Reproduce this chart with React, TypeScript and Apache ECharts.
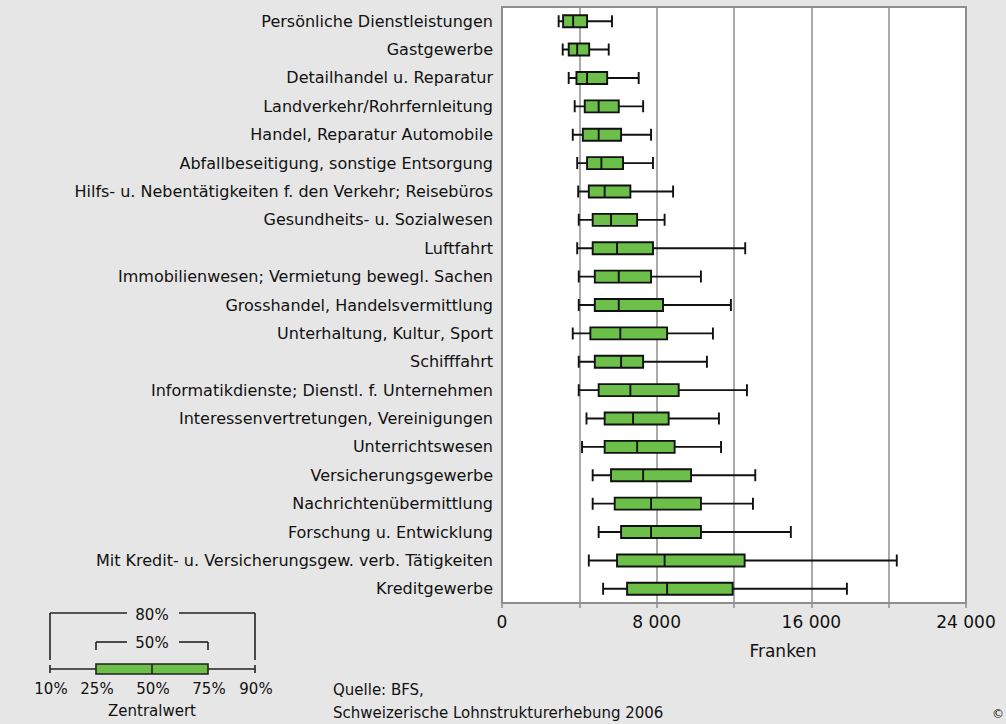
import React, { useEffect, useRef } from "react";
import * as echarts from "echarts";

const categories = [
  "Persönliche Dienstleistungen",
  "Gastgewerbe",
  "Detailhandel u. Reparatur",
  "Landverkehr/Rohrfernleitung",
  "Handel, Reparatur Automobile",
  "Abfallbeseitigung, sonstige Entsorgung",
  "Hilfs- u. Nebentätigkeiten f. den Verkehr; Reisebüros",
  "Gesundheits- u. Sozialwesen",
  "Luftfahrt",
  "Immobilienwesen; Vermietung bewegl. Sachen",
  "Grosshandel, Handelsvermittlung",
  "Unterhaltung, Kultur, Sport",
  "Schifffahrt",
  "Informatikdienste; Dienstl. f. Unternehmen",
  "Interessenvertretungen, Vereinigungen",
  "Unterrichtswesen",
  "Versicherungsgewerbe",
  "Nachrichtenübermittlung",
  "Forschung u. Entwicklung",
  "Mit Kredit- u. Versicherungsgew. verb. Tätigkeiten",
  "Kreditgewerbe",
];

const p10 = [2930, 3140, 3450, 3760, 3660, 3890, 3940, 3970, 3890, 3970, 3970, 3660, 3970, 3970, 4370, 4140, 4690, 4690, 5000, 4490, 5230];
const p25 = [3160, 3450, 3850, 4280, 4180, 4400, 4490, 4690, 4690, 4800, 4800, 4570, 4800, 5000, 5310, 5310, 5640, 5830, 6160, 5950, 6470];
const median = [3680, 3890, 4400, 5000, 5000, 5140, 5310, 5640, 5950, 6040, 6040, 6120, 6160, 6640, 6780, 6990, 7300, 7710, 7710, 8410, 8540];
const p75 = [4400, 4510, 5440, 6040, 6160, 6260, 6640, 6990, 7810, 7710, 8330, 8540, 7300, 9140, 8620, 8930, 9780, 10290, 10290, 12550, 11930];
const p90 = [5690, 5520, 7070, 7300, 7710, 7810, 8850, 8410, 12580, 10290, 11840, 10910, 10600, 12670, 11220, 11330, 13100, 12980, 14940, 20420, 17840];

const xTickLabels = ["0", "8 000", "16 000", "24 000"];
const xMin = 0;
const xMax = 24000;
const xStep = 4000;

const legendLabels = ["10%", "25%", "50%", "75%", "90%"];
const sourceLines = ["Quelle: BFS,", "Schweizerische Lohnstrukturerhebung 2006"];

const FONT = "DejaVu Sans";
const GREEN = "#6cc04a";
const GRID_GREY = "#8e8e8e";

export default function App() {
  const ref = useRef<HTMLDivElement>(null);

  useEffect(() => {
    if (!ref.current) return;
    const chart = echarts.init(ref.current, undefined, { renderer: "svg" });

    const boxData = categories.map((_, i) => [p10[i], p25[i], median[i], p75[i], p90[i]]);

    const line = (x1: number, y1: number, x2: number, y2: number) => ({
      type: "line",
      shape: { x1, y1, x2, y2 },
      style: { stroke: "#222", lineWidth: 1.6 },
    });
    const txt = (x: number, y: number, text: string, align = "center", size = 15) => ({
      type: "text",
      x,
      y,
      style: {
        text,
        fill: "#111",
        font: `${size}px "${FONT}"`,
        textAlign: align,
        textVerticalAlign: "middle",
      },
    });

    const legendX = [50, 96, 152, 208, 255];

    chart.setOption({
      animation: false,
      backgroundColor: "#e6e6e6",
      grid: {
        left: 502,
        right: 40,
        top: 7,
        bottom: 121,
        show: true,
        backgroundColor: "#ffffff",
        borderColor: GRID_GREY,
        borderWidth: 2,
        containLabel: false,
      },
      xAxis: {
        type: "value",
        min: xMin,
        max: xMax,
        interval: xStep,
        axisLine: { show: true, lineStyle: { color: GRID_GREY, width: 2 } },
        axisTick: { show: true, length: 5, lineStyle: { color: GRID_GREY, width: 1.5 } },
        splitLine: { show: true, lineStyle: { color: GRID_GREY, width: 1.5 } },
        axisLabel: {
          margin: 10,
          fontFamily: FONT,
          fontSize: 17,
          color: "#111",
          formatter: (v: number) => {
            const idx = xTickLabels.findIndex((_, k) => k * 2 * xStep === v);
            return idx >= 0 ? xTickLabels[idx] : "";
          },
        },
      },
      yAxis: {
        type: "category",
        data: categories,
        inverse: true,
        axisLine: { show: false },
        axisTick: { show: false },
        splitLine: { show: false },
        axisLabel: {
          margin: 9,
          fontFamily: FONT,
          fontSize: 16,
          color: "#111",
        },
      },
      series: [
        {
          type: "boxplot",
          data: boxData,
          boxWidth: [12, 12],
          itemStyle: { color: GREEN, borderColor: "#111", borderWidth: 1.9 },
          emphasis: { disabled: true },
        },
      ],
      graphic: [
        txt(783, 651, "Franken", "center", 17),
        // legend: outer bracket 80%
        line(legendX[0], 613, 127, 613),
        line(179, 613, legendX[4], 613),
        line(legendX[0], 613, legendX[0], 660),
        line(legendX[4], 613, legendX[4], 660),
        txt(152, 615, "80%"),
        // inner bracket 50%
        line(legendX[1], 642, 127, 642),
        line(179, 642, legendX[3], 642),
        line(legendX[1], 642, legendX[1], 650),
        line(legendX[3], 642, legendX[3], 650),
        txt(152, 643, "50%"),
        // whisker
        line(legendX[0], 669, legendX[1], 669),
        line(legendX[3], 669, legendX[4], 669),
        line(legendX[0], 665, legendX[0], 673),
        line(legendX[4], 665, legendX[4], 673),
        {
          type: "rect",
          shape: { x: legendX[1], y: 664, width: legendX[3] - legendX[1], height: 10 },
          style: { fill: GREEN, stroke: "#222", lineWidth: 1.6 },
        },
        line(legendX[2], 664, legendX[2], 674),
        ...legendLabels.map((t, i) => txt(legendX[i] + 1, 689, t)),
        txt(152, 711, "Zentralwert"),
        txt(333, 690, sourceLines[0], "left"),
        txt(333, 713, sourceLines[1], "left"),
        txt(992, 714, "©", "left", 12),
      ],
    });

    return () => chart.dispose();
  }, []);

  return (
    <div
      ref={ref}
      style={{ position: "fixed", left: 0, top: 0, width: 1006, height: 724 }}
    />
  );
}
